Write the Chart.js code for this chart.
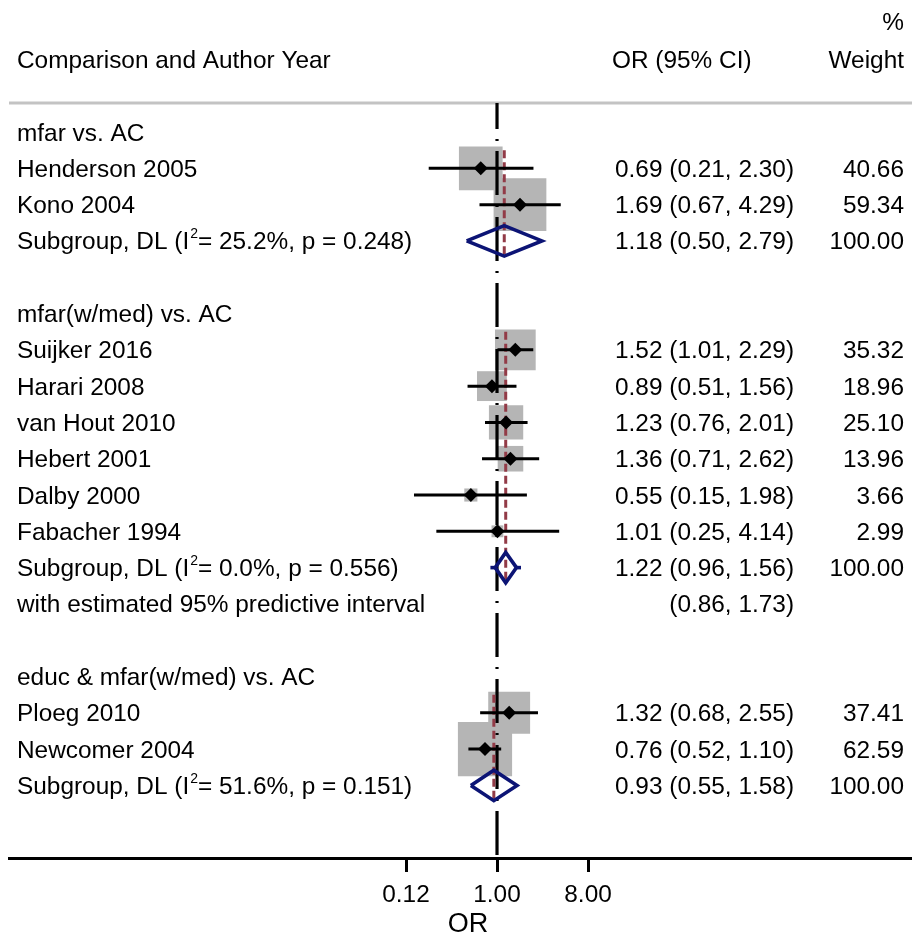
<!DOCTYPE html>
<html>
<head>
<meta charset="utf-8">
<script src="https://cdn.jsdelivr.net/npm/chart.js@4.4.1/dist/chart.umd.min.js"></script>
<style>
html, body { margin: 0; padding: 0; background: #fff; }
#wrap { width: 912px; height: 936px; }
</style>
</head>
<body>
<div id="wrap"><canvas id="forest" width="912" height="936"></canvas></div>
<script>
// Subgroup headings
const groupNames = ['mfar vs. AC', 'mfar(w/med) vs. AC', 'educ & mfar(w/med) vs. AC'];

// Individual studies
const studyNames = ['Henderson 2005', 'Kono 2004', 'Suijker 2016', 'Harari 2008', 'van Hout 2010',
                    'Hebert 2001', 'Dalby 2000', 'Fabacher 1994', 'Ploeg 2010', 'Newcomer 2004'];
const studyGroup = [0, 0, 1, 1, 1, 1, 1, 1, 2, 2];
const studyOR = [0.69, 1.69, 1.52, 0.89, 1.23, 1.36, 0.55, 1.01, 1.32, 0.76];
const studyLo = [0.21, 0.67, 1.01, 0.51, 0.76, 0.71, 0.15, 0.25, 0.68, 0.52];
const studyHi = [2.30, 4.29, 2.29, 1.56, 2.01, 2.62, 1.98, 4.14, 2.55, 1.10];
const studyWeight = [40.66, 59.34, 35.32, 18.96, 25.10, 13.96, 3.66, 2.99, 37.41, 62.59];

// Pooled DerSimonian-Laird estimates per subgroup
const subOR = [1.18, 1.22, 0.93];
const subLo = [0.50, 0.96, 0.55];
const subHi = [2.79, 1.56, 1.58];
const subI2 = ['25.2%', '0.0%', '51.6%'];
const subP = ['0.248', '0.556', '0.151'];

// 95% predictive interval (only reported for the second subgroup)
const predLo = [null, 0.86, null];
const predHi = [null, 1.73, null];

// Odds-ratio axis
const tickValues = [0.125, 1, 8];
const tickLabels = ['0.12', '1.00', '8.00'];
const nullValue = 1;

// ---- row layout: heading, studies, pooled row, optional PI row, spacer ----
const rows = [];
const groupSpan = [];
let r = 0;
groupNames.forEach((g, gi) => {
  rows.push({ kind: 'head', row: r++, text: g });
  const first = r;
  studyNames.forEach((n, i) => {
    if (studyGroup[i] === gi) rows.push({ kind: 'study', row: r++, i });
  });
  const subRow = r;
  rows.push({ kind: 'sub', row: r++, gi });
  if (predLo[gi] !== null) rows.push({ kind: 'pred', row: r++, gi });
  r++;
  groupSpan.push({ first, subRow });
});
const lastRow = r;

const FONT = '"Liberation Sans", Arial, Helvetica, sans-serif';
const TXT = '24.4px ' + FONT;
const BOX = '#b5b5b5';
const NAVY = '#0c1475';
const MAROON = '#923b47';
const DIAMOND_HALF = 0.42;   // half-height of pooled diamonds, in rows
const BOX_SCALE = 6.85;      // box side (px) per sqrt(weight)

const studyRows = rows.filter(o => o.kind === 'study');
const datasets = [];

// weighted boxes
datasets.push({
  order: 20,
  data: studyRows.map(o => ({ x: studyOR[o.i], y: o.row, w: studyWeight[o.i] })),
  pointStyle: 'rect',
  pointRadius: ctx => ctx.raw ? BOX_SCALE * Math.sqrt(ctx.raw.w) / Math.SQRT2 : 0,
  backgroundColor: BOX,
  borderWidth: 0,
  showLine: false
});

// line of no effect
datasets.push({
  order: 19,
  data: [{ x: nullValue, y: -0.8 }, { x: nullValue, y: lastRow }],
  showLine: true,
  borderColor: '#000',
  borderWidth: 3.2,
  borderDash: [44, 10, 2, 10],
  borderDashOffset: 18,
  borderCapStyle: 'butt',
  pointRadius: 0
});

// pooled-estimate reference lines, one per subgroup
groupSpan.forEach((s, gi) => {
  datasets.push({
    order: 18,
    data: [{ x: subOR[gi], y: s.first - 0.5 }, { x: subOR[gi], y: s.subRow + 0.45 }],
    showLine: true,
    borderColor: MAROON,
    borderWidth: 3,
    borderDash: [8, 4],
    borderCapStyle: 'butt',
    pointRadius: 0
  });
});

// confidence intervals
studyRows.forEach(o => {
  datasets.push({
    order: 10,
    data: [{ x: studyLo[o.i], y: o.row }, { x: studyHi[o.i], y: o.row }],
    showLine: true,
    borderColor: '#000',
    borderWidth: 3,
    borderCapStyle: 'butt',
    pointRadius: 0
  });
});

// pooled diamonds and predictive-interval whiskers
groupSpan.forEach((s, gi) => {
  const y0 = s.subRow;
  datasets.push({
    order: 5,
    data: [
      { x: subLo[gi], y: y0 },
      { x: subOR[gi], y: y0 - DIAMOND_HALF },
      { x: subHi[gi], y: y0 },
      { x: subOR[gi], y: y0 + DIAMOND_HALF },
      { x: subLo[gi], y: y0 }
    ],
    showLine: true,
    borderColor: NAVY,
    borderWidth: 3.6,
    borderJoinStyle: 'miter',
    pointRadius: 0
  });
  if (predLo[gi] !== null) {
    [[predLo[gi], subLo[gi]], [subHi[gi], predHi[gi]]].forEach(([a, b]) => {
      datasets.push({
        order: 5,
        data: [{ x: a, y: y0 }, { x: b, y: y0 }],
        showLine: true,
        borderColor: NAVY,
        borderWidth: 3.6,
        borderCapStyle: 'butt',
        pointRadius: 0
      });
    });
  }
});

// point estimates
datasets.push({
  order: 1,
  data: studyRows.map(o => ({ x: studyOR[o.i], y: o.row })),
  pointStyle: 'rectRot',
  pointRadius: 7,
  backgroundColor: '#000',
  borderWidth: 0,
  showLine: false
});

function fmt(v) { return v.toFixed(2); }

function drawRowText(ctx, text, x, y, align) {
  ctx.textAlign = align;
  ctx.fillText(text, x, y);
}

function drawSubLabel(ctx, gi, x, y) {
  const pre = 'Subgroup, DL (I';
  const post = '= ' + subI2[gi] + ', p = ' + subP[gi] + ')';
  ctx.textAlign = 'left';
  ctx.font = TXT;
  ctx.fillText(pre, x, y);
  let cx = x + ctx.measureText(pre).width + 1;
  ctx.font = '14px ' + FONT;
  ctx.fillText('2', cx, y - 11);
  cx += ctx.measureText('2').width;
  ctx.font = TXT;
  ctx.fillText(post, cx, y);
}

const forestText = {
  id: 'forestText',
  beforeDatasetsDraw(chart) {
    const { ctx, chartArea } = chart;
    ctx.save();
    ctx.strokeStyle = '#c3c3c3';
    ctx.lineWidth = 3;
    ctx.beginPath();
    ctx.moveTo(chartArea.left, chartArea.top);
    ctx.lineTo(chartArea.right, chartArea.top);
    ctx.stroke();
    ctx.restore();
  },
  afterDraw(chart) {
    const { ctx, scales: { y } } = chart;
    const LEFT = 17, CI_RIGHT = 794, W_RIGHT = 904, CI_HEAD = 612;
    ctx.save();
    ctx.fillStyle = '#000';
    ctx.textBaseline = 'alphabetic';
    ctx.font = TXT;

    // column headers
    drawRowText(ctx, 'Comparison and Author Year', LEFT, 68, 'left');
    drawRowText(ctx, 'OR (95% CI)', CI_HEAD, 68, 'left');
    drawRowText(ctx, '%', W_RIGHT, 30, 'right');
    drawRowText(ctx, 'Weight', W_RIGHT, 68, 'right');

    rows.forEach(o => {
      const by = y.getPixelForValue(o.row) + 8.5;
      ctx.font = TXT;
      if (o.kind === 'head') {
        drawRowText(ctx, o.text, LEFT, by, 'left');
      } else if (o.kind === 'study') {
        const i = o.i;
        drawRowText(ctx, studyNames[i], LEFT, by, 'left');
        drawRowText(ctx, fmt(studyOR[i]) + ' (' + fmt(studyLo[i]) + ', ' + fmt(studyHi[i]) + ')', CI_RIGHT, by, 'right');
        drawRowText(ctx, fmt(studyWeight[i]), W_RIGHT, by, 'right');
      } else if (o.kind === 'sub') {
        const gi = o.gi;
        drawSubLabel(ctx, gi, LEFT, by);
        drawRowText(ctx, fmt(subOR[gi]) + ' (' + fmt(subLo[gi]) + ', ' + fmt(subHi[gi]) + ')', CI_RIGHT, by, 'right');
        drawRowText(ctx, '100.00', W_RIGHT, by, 'right');
      } else if (o.kind === 'pred') {
        const gi = o.gi;
        drawRowText(ctx, 'with estimated 95% predictive interval', LEFT, by, 'left');
        drawRowText(ctx, '(' + fmt(predLo[gi]) + ', ' + fmt(predHi[gi]) + ')', CI_RIGHT, by, 'right');
      }
    });

    // axis title
    ctx.font = '27px ' + FONT;
    ctx.textAlign = 'center';
    ctx.fillText('OR', 468, 932);
    ctx.restore();
  }
};

new Chart(document.getElementById('forest'), {
  type: 'scatter',
  data: { datasets },
  options: {
    responsive: false,
    animation: false,
    events: [],
    layout: { autoPadding: false, padding: { left: 9, right: 0, top: 103, bottom: 0 } },
    plugins: { legend: { display: false }, tooltip: { enabled: false } },
    scales: {
      x: {
        type: 'logarithmic',
        position: 'bottom',
        bounds: 'data',
        min: 1.436e-5,
        max: 13126,
        afterBuildTicks: scale => { scale.ticks = tickValues.map(v => ({ value: v })); },
        afterFit: scale => {
          scale.height = 78;
          scale.paddingLeft = 0;
          scale.paddingRight = 0;
        },
        ticks: {
          autoSkip: false,
          maxRotation: 0,
          padding: 9,
          color: '#000',
          font: { family: FONT, size: 24.4 },
          callback: (v) => {
            const k = tickValues.indexOf(v);
            return k >= 0 ? tickLabels[k] : '';
          }
        },
        grid: {
          drawOnChartArea: false,
          drawTicks: true,
          tickLength: 14,
          tickWidth: 3,
          tickColor: '#000',
          lineWidth: 3,
          color: '#000'
        },
        border: { display: true, color: '#000', width: 3 }
      },
      y: {
        type: 'linear',
        display: false,
        reverse: true,
        bounds: 'data',
        min: -0.8,
        max: lastRow
      }
    }
  },
  plugins: [forestText]
});
</script>
</body>
</html>
